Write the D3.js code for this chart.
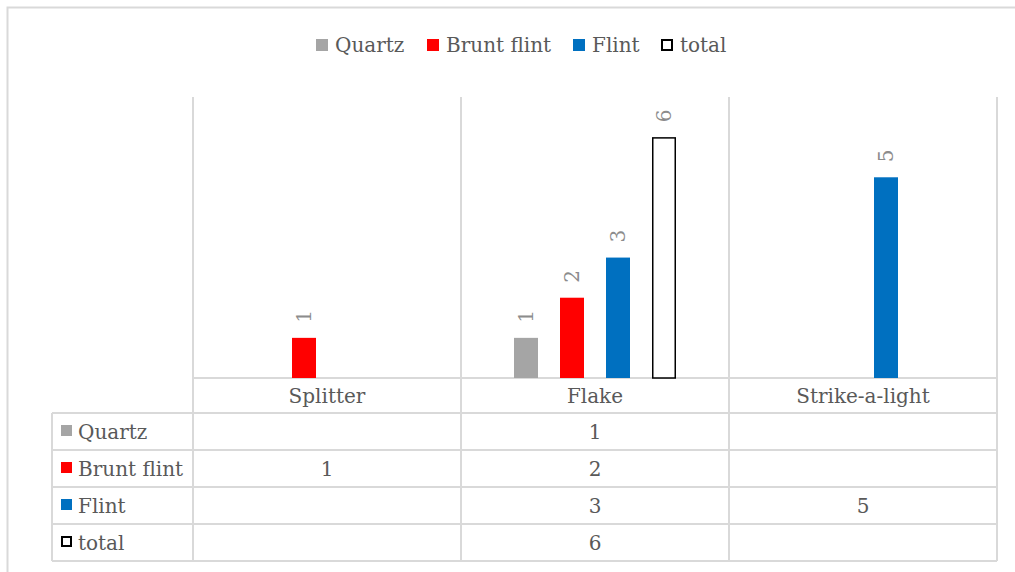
<!DOCTYPE html>
<html>
<head>
<meta charset="utf-8">
<script src="https://cdn.jsdelivr.net/npm/d3@7"></script>
<style>
  html, body { margin: 0; padding: 0; background: #fff; }
  svg text { font-family: "DejaVu Serif", serif; }
</style>
</head>
<body>
<svg id="chart" width="1015" height="572"></svg>
<script>
// Artefact types and raw-material series
const categories = ["Splitter", "Flake", "Strike-a-light"];
const seriesNames = ["Quartz", "Brunt flint", "Flint", "total"];
const quartz = [null, 1, null];
const bruntFlint = [1, 2, null];
const flint = [null, 3, 5];
const total = [null, 6, null];
const yTicks = [0, 1, 2, 3, 4, 5, 6, 7];

const seriesValues = [quartz, bruntFlint, flint, total];
const fills = ["#a5a5a5", "#ff0000", "#0070c0", "#ffffff"];
const strokes = [null, null, null, "#000000"];

const svg = d3.select("#chart");
const grid = "#d9d9d9";
const textCol = "#595959";
const fontSize = 20;

// outer chart frame
svg.append("rect").attr("x", 7.5).attr("y", 7.5).attr("width", 1040).attr("height", 600)
  .attr("fill", "none").attr("stroke", grid).attr("stroke-width", 2);

const plotLeft = 193, plotRight = 997, plotTop = 97, baseY = 378;
const x = d3.scaleBand().domain(categories).range([plotLeft, plotRight]).padding(0);
const groupW = 184;
const xs = d3.scaleBand().domain(seriesNames)
  .range([(x.bandwidth() - groupW) / 2, (x.bandwidth() + groupW) / 2])
  .paddingInner(22 / 46).paddingOuter(11 / 46);
const y = d3.scaleLinear().domain([0, d3.max(yTicks)]).range([baseY, plotTop]);

// category separators running through the plot and table
const tableLeft = 52, rowH = 37, headTop = baseY, headBottom = 413;
const tableBottom = headBottom + rowH * seriesNames.length;
const vlines = categories.map(c => x(c)).concat([plotRight]);
vlines.forEach(v => {
  svg.append("line").attr("x1", v).attr("x2", v).attr("y1", plotTop).attr("y2", tableBottom)
    .attr("stroke", grid).attr("stroke-width", 2);
});
// horizontal table rules
svg.append("line").attr("x1", plotLeft).attr("x2", plotRight).attr("y1", headTop).attr("y2", headTop)
  .attr("stroke", grid).attr("stroke-width", 2);
d3.range(seriesNames.length + 1).forEach(i => {
  const yy = headBottom + i * rowH;
  svg.append("line").attr("x1", tableLeft).attr("x2", plotRight).attr("y1", yy).attr("y2", yy)
    .attr("stroke", grid).attr("stroke-width", 2);
});
svg.append("line").attr("x1", tableLeft).attr("x2", tableLeft).attr("y1", headBottom).attr("y2", tableBottom)
  .attr("stroke", grid).attr("stroke-width", 2);

// bars
const barsG = svg.append("g");
seriesNames.forEach((s, si) => {
  seriesValues[si].forEach((v, ci) => {
    if (v == null) return;
    const bx = x(categories[ci]) + xs(s);
    const bw = xs.bandwidth();
    const inset = strokes[si] ? 0.75 : 0;
    barsG.append("rect")
      .attr("x", bx + inset)
      .attr("y", y(v) + inset)
      .attr("width", bw - 2 * inset)
      .attr("height", y(0) - y(v) - inset)
      .attr("fill", fills[si])
      .attr("stroke", strokes[si] || "none")
      .attr("stroke-width", 1.5);
    // rotated value label
    const lx = bx + bw / 2, ly = y(v) - 15;
    barsG.append("text")
      .attr("transform", `translate(${lx},${ly}) rotate(-90)`)
      .attr("text-anchor", "start").attr("dy", "0.35em")
      .attr("font-size", 20).attr("fill", "#8c8c8c")
      .text(v);
  });
});

// category header row
categories.forEach(c => {
  svg.append("text").attr("x", x(c) + x.bandwidth() / 2).attr("y", (headTop + headBottom) / 2)
    .attr("dy", "0.35em").attr("text-anchor", "middle")
    .attr("font-size", fontSize).attr("fill", textCol).text(c);
});

// table body
seriesNames.forEach((s, si) => {
  const cy = headBottom + si * rowH + rowH / 2;
  const sw = 11;
  const inset = strokes[si] ? 1 : 0;
  svg.append("rect").attr("x", 61 + inset).attr("y", cy - sw / 2 - 1 + inset)
    .attr("width", sw - 2 * inset).attr("height", sw - 2 * inset)
    .attr("fill", fills[si]).attr("stroke", strokes[si] || "none").attr("stroke-width", 2);
  svg.append("text").attr("x", 78).attr("y", cy).attr("dy", "0.35em")
    .attr("font-size", fontSize).attr("fill", textCol).text(s);
  seriesValues[si].forEach((v, ci) => {
    if (v == null) return;
    svg.append("text").attr("x", x(categories[ci]) + x.bandwidth() / 2).attr("y", cy)
      .attr("dy", "0.35em").attr("text-anchor", "middle")
      .attr("font-size", fontSize).attr("fill", textCol).text(v);
  });
});

// legend
const legendX = [316, 427, 573, 661];
seriesNames.forEach((s, si) => {
  const ly = 45;
  const sw = 12;
  const inset = strokes[si] ? 1 : 0;
  svg.append("rect").attr("x", legendX[si] + inset).attr("y", ly - sw / 2 + inset)
    .attr("width", sw - 2 * inset).attr("height", sw - 2 * inset)
    .attr("fill", fills[si]).attr("stroke", strokes[si] || "none").attr("stroke-width", 2);
  svg.append("text").attr("x", legendX[si] + 19).attr("y", ly).attr("dy", "0.35em")
    .attr("font-size", fontSize).attr("fill", textCol).text(s);
});
</script>
</body>
</html>
